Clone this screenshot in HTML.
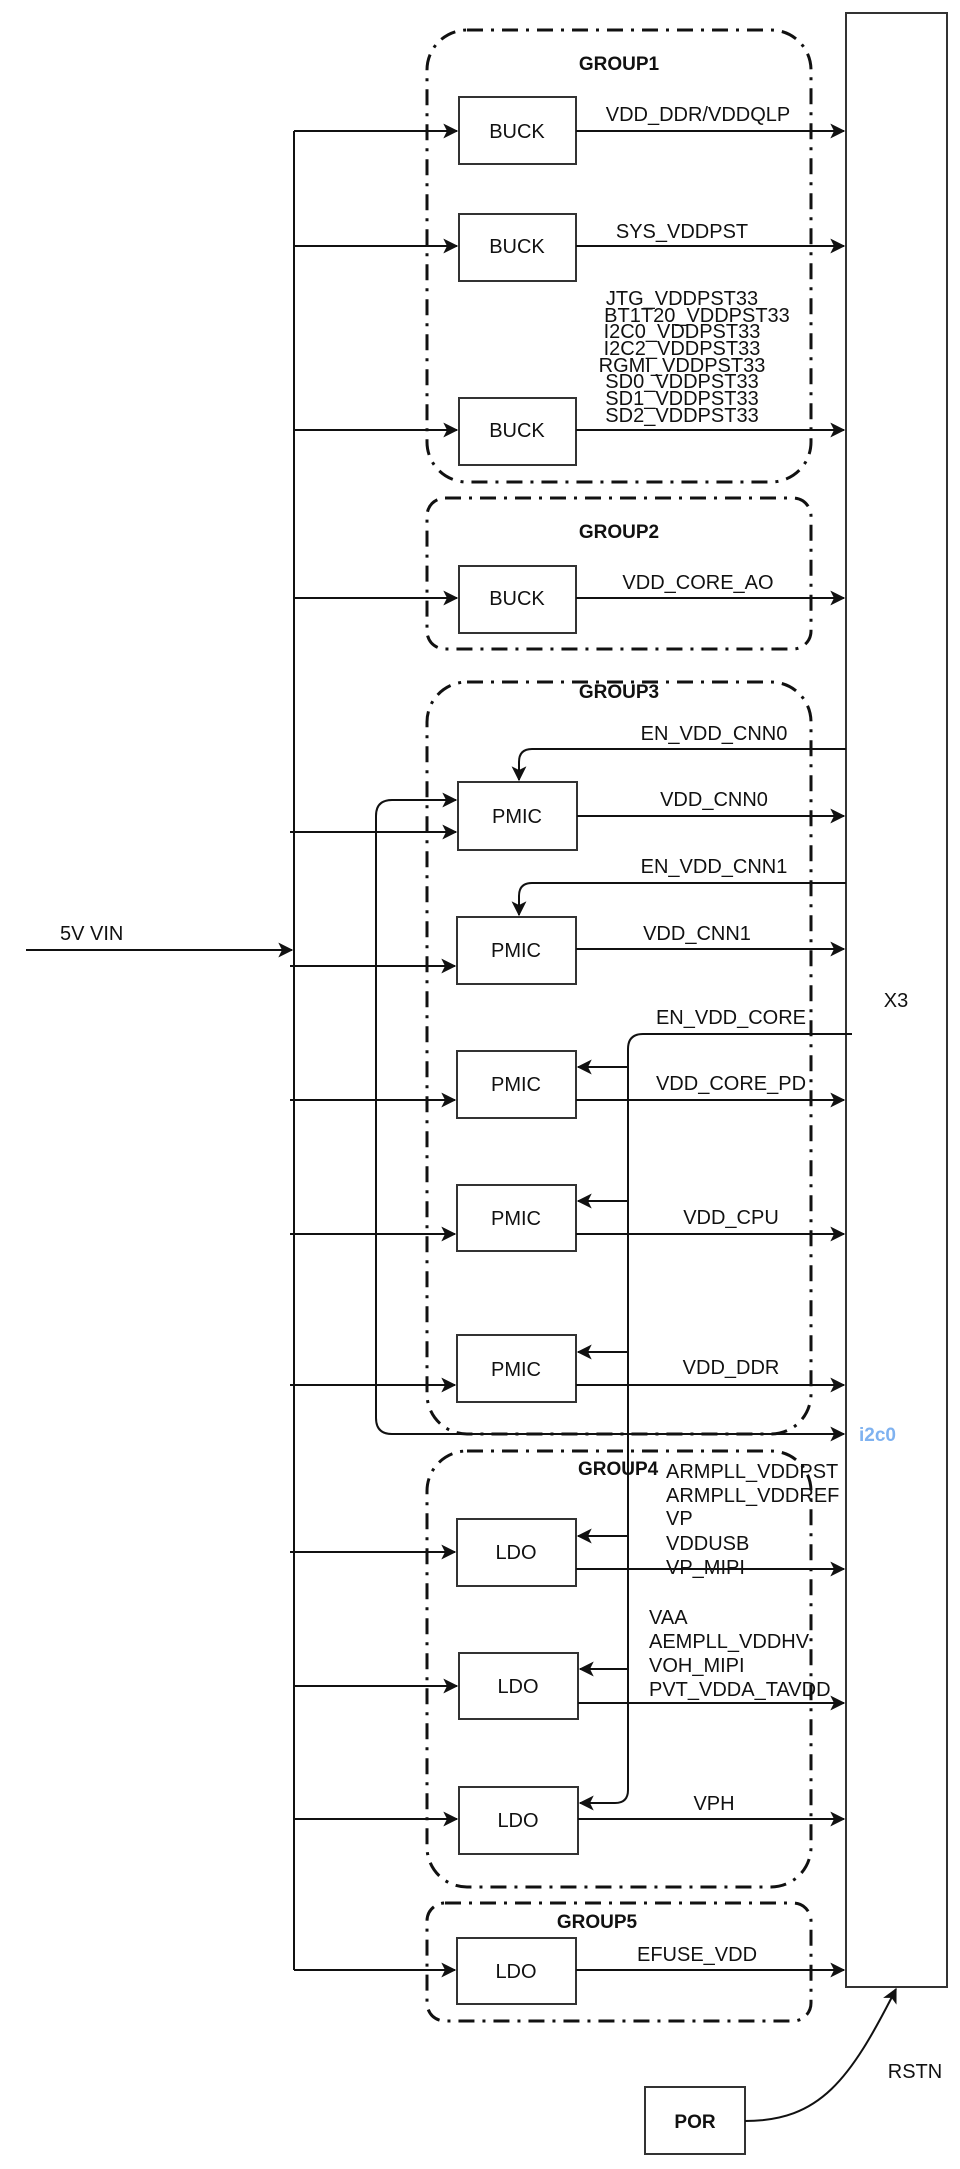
<!DOCTYPE html>
<html><head><meta charset="utf-8"><style>
html,body{margin:0;padding:0;background:#fff}
svg{display:block}
text{font-family:"Liberation Sans",sans-serif;font-size:20px;fill:#111}
.b{font-weight:bold;font-size:19px}
</style></head><body>
<svg width="960" height="2169" viewBox="0 0 960 2169" xmlns="http://www.w3.org/2000/svg">
<defs>
<marker id="a" viewBox="0 0 12 12" refX="11" refY="6" markerWidth="15" markerHeight="15" markerUnits="userSpaceOnUse" orient="auto-start-reverse">
<path d="M0,0 L12,6 L0,12 L3,6 Z" fill="#111"/></marker>
</defs>
<g fill="none" stroke="#111" stroke-width="3" stroke-dasharray="16 8 3 8">
<rect x="427" y="30" width="384" height="452" rx="40"/>
<rect x="427" y="498" width="384" height="151" rx="18"/>
<rect x="427" y="682" width="384" height="752" rx="40"/>
<rect x="427" y="1451" width="384" height="436" rx="40"/>
<rect x="427" y="1903" width="384" height="118" rx="18"/>
</g>
<g fill="#fff" stroke="#333" stroke-width="2">
<rect x="846" y="13" width="101" height="1974"/>
<rect x="459" y="97" width="117" height="67"/>
<rect x="459" y="214" width="117" height="67"/>
<rect x="459" y="398" width="117" height="67"/>
<rect x="459" y="566" width="117" height="67"/>
<rect x="458" y="782" width="119" height="68"/>
<rect x="457" y="917" width="119" height="67"/>
<rect x="457" y="1051" width="119" height="67"/>
<rect x="457" y="1185" width="119" height="66"/>
<rect x="457" y="1335" width="119" height="67"/>
<rect x="457" y="1519" width="119" height="67"/>
<rect x="459" y="1653" width="119" height="66"/>
<rect x="459" y="1787" width="119" height="67"/>
<rect x="457" y="1938" width="119" height="66"/>
<rect x="645" y="2087" width="100" height="67"/>
</g>
<g fill="none" stroke="#111" stroke-width="2">
<line x1="294" y1="131" x2="294" y2="1970"/>
<line x1="26" y1="950" x2="292" y2="950" marker-end="url(#a)"/>
<line x1="294" y1="131" x2="457" y2="131" marker-end="url(#a)"/>
<line x1="294" y1="246" x2="457" y2="246" marker-end="url(#a)"/>
<line x1="294" y1="430" x2="457" y2="430" marker-end="url(#a)"/>
<line x1="294" y1="598" x2="457" y2="598" marker-end="url(#a)"/>
<line x1="290" y1="832" x2="456" y2="832" marker-end="url(#a)"/>
<line x1="290" y1="966" x2="455" y2="966" marker-end="url(#a)"/>
<line x1="290" y1="1100" x2="455" y2="1100" marker-end="url(#a)"/>
<line x1="290" y1="1234" x2="455" y2="1234" marker-end="url(#a)"/>
<line x1="290" y1="1385" x2="455" y2="1385" marker-end="url(#a)"/>
<line x1="290" y1="1552" x2="455" y2="1552" marker-end="url(#a)"/>
<line x1="294" y1="1686" x2="457" y2="1686" marker-end="url(#a)"/>
<line x1="294" y1="1819" x2="457" y2="1819" marker-end="url(#a)"/>
<line x1="294" y1="1970" x2="455" y2="1970" marker-end="url(#a)"/>
<line x1="576" y1="131" x2="844" y2="131" marker-end="url(#a)"/>
<line x1="576" y1="246" x2="844" y2="246" marker-end="url(#a)"/>
<line x1="576" y1="430" x2="844" y2="430" marker-end="url(#a)"/>
<line x1="576" y1="598" x2="844" y2="598" marker-end="url(#a)"/>
<line x1="577" y1="816" x2="844" y2="816" marker-end="url(#a)"/>
<line x1="576" y1="949" x2="844" y2="949" marker-end="url(#a)"/>
<line x1="576" y1="1100" x2="844" y2="1100" marker-end="url(#a)"/>
<line x1="576" y1="1234" x2="844" y2="1234" marker-end="url(#a)"/>
<line x1="576" y1="1385" x2="844" y2="1385" marker-end="url(#a)"/>
<line x1="576" y1="1569" x2="844" y2="1569" marker-end="url(#a)"/>
<line x1="578" y1="1703" x2="844" y2="1703" marker-end="url(#a)"/>
<line x1="578" y1="1819" x2="844" y2="1819" marker-end="url(#a)"/>
<line x1="576" y1="1970" x2="844" y2="1970" marker-end="url(#a)"/>
<path d="M846,749 L532,749 Q519,749 519,762 L519,780" marker-end="url(#a)"/>
<path d="M846,883 L532,883 Q519,883 519,896 L519,915" marker-end="url(#a)"/>
<path d="M852,1034 L643,1034 Q628,1034 628,1049 L628,1790 Q628,1803 615,1803 L580,1803" marker-end="url(#a)"/>
<line x1="628" y1="1067" x2="578" y2="1067" marker-end="url(#a)"/>
<line x1="628" y1="1201" x2="578" y2="1201" marker-end="url(#a)"/>
<line x1="628" y1="1352" x2="578" y2="1352" marker-end="url(#a)"/>
<line x1="628" y1="1536" x2="578" y2="1536" marker-end="url(#a)"/>
<line x1="628" y1="1669" x2="580" y2="1669" marker-end="url(#a)"/>
<path d="M844,1434 L392,1434 Q376,1434 376,1418 L376,816 Q376,800 392,800 L456,800" marker-start="url(#a)" marker-end="url(#a)"/>
<path d="M745,2121 C820,2121 850,2080 896,1989" marker-end="url(#a)"/>
</g>
<g text-anchor="middle">
<text class="b" x="619" y="70">GROUP1</text>
<text class="b" x="619" y="538">GROUP2</text>
<text class="b" x="619" y="698">GROUP3</text>
<text class="b" x="597" y="1928">GROUP5</text>
<text x="517" y="138">BUCK</text>
<text x="517" y="253">BUCK</text>
<text x="517" y="437">BUCK</text>
<text x="517" y="605">BUCK</text>
<text x="517" y="823">PMIC</text>
<text x="516" y="957">PMIC</text>
<text x="516" y="1091">PMIC</text>
<text x="516" y="1225">PMIC</text>
<text x="516" y="1376">PMIC</text>
<text x="516" y="1559">LDO</text>
<text x="518" y="1693">LDO</text>
<text x="518" y="1827">LDO</text>
<text x="516" y="1978">LDO</text>
<text class="b" x="695" y="2128">POR</text>
<text x="698" y="121">VDD_DDR/VDDQLP</text>
<text x="682" y="238">SYS_VDDPST</text>
<text x="682" y="305">JTG_VDDPST33</text>
<text x="697" y="322">BT1T20_VDDPST33</text>
<text x="682" y="338">I2C0_VDDPST33</text>
<text x="682" y="355">I2C2_VDDPST33</text>
<text x="682" y="372">RGMI_VDDPST33</text>
<text x="682" y="388">SD0_VDDPST33</text>
<text x="682" y="405">SD1_VDDPST33</text>
<text x="682" y="422">SD2_VDDPST33</text>
<text x="698" y="589">VDD_CORE_AO</text>
<text x="714" y="740">EN_VDD_CNN0</text>
<text x="714" y="806">VDD_CNN0</text>
<text x="714" y="873">EN_VDD_CNN1</text>
<text x="697" y="940">VDD_CNN1</text>
<text x="731" y="1024">EN_VDD_CORE</text>
<text x="731" y="1090">VDD_CORE_PD</text>
<text x="731" y="1224">VDD_CPU</text>
<text x="731" y="1374">VDD_DDR</text>
<text x="714" y="1810">VPH</text>
<text x="697" y="1961">EFUSE_VDD</text>
<text x="896" y="1007">X3</text>
<text x="915" y="2078">RSTN</text>
</g>
<text x="60" y="940">5V VIN</text>
<text class="b" x="578" y="1475">GROUP4</text>
<text x="666" y="1478">ARMPLL_VDDPST</text>
<text x="666" y="1502">ARMPLL_VDDREF</text>
<text x="666" y="1525">VP</text>
<text x="666" y="1550">VDDUSB</text>
<text x="666" y="1574">VP_MIPI</text>
<text x="649" y="1624">VAA</text>
<text x="649" y="1648">AEMPLL_VDDHV</text>
<text x="649" y="1672">VOH_MIPI</text>
<text x="649" y="1696">PVT_VDDA_TAVDD</text>
<text x="859" y="1441" style="fill:#7fb2f0;font-weight:bold;font-size:19px">i2c0</text>
</svg>
</body></html>
